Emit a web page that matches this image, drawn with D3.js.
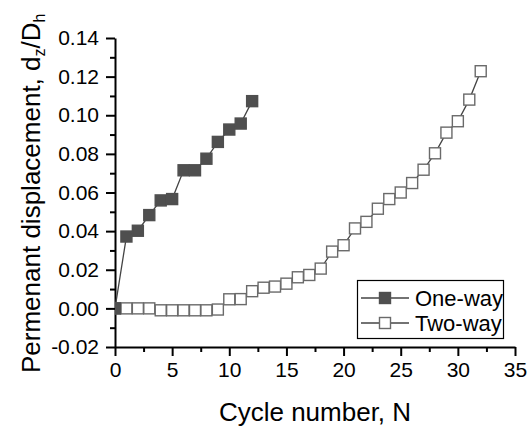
<!DOCTYPE html>
<html>
<head>
<meta charset="utf-8">
<script src="https://cdn.jsdelivr.net/npm/d3@7"></script>
<style>
  body { margin: 0; background: #fff; }
  svg text { font-family: "Liberation Sans", Arial, sans-serif; fill: #000; }
</style>
</head>
<body>
<div id="chart"></div>
<script>
// cycle numbers and displacement ratios
const oneWayN   = [0, 1, 2, 3, 4, 5, 6, 7, 8, 9, 10, 11, 12]
const oneWayVal = [0, 0.0372, 0.0402, 0.0483, 0.0559, 0.0566, 0.0715, 0.0715, 0.0775, 0.0862, 0.0926, 0.0957, 0.1073]

const twoWayN   = d3.range(0, 33)
const twoWayVal = [0, 0, 0, 0, -0.001, -0.001, -0.001, -0.001, -0.001, -0.0006,
  0.0047, 0.0048, 0.0089, 0.0107, 0.0113, 0.0128, 0.0161, 0.0173, 0.0206, 0.0294,
  0.0327, 0.0414, 0.0448, 0.0516, 0.0566, 0.0600, 0.0649, 0.0718, 0.0803, 0.0910,
  0.0969, 0.1081, 0.1228]

const xTicks = [0, 5, 10, 15, 20, 25, 30, 35]
const yTicks = [-0.02, 0, 0.02, 0.04, 0.06, 0.08, 0.10, 0.12, 0.14]

const seriesNames = ['One-way', 'Two-way']

const width = 528,
      height = 427,
      margin = { top: 38, right: 13, bottom: 80, left: 115 }

const svg = d3.select('#chart')
  .append('svg')
  .attr('width', width)
  .attr('height', height)

const x = d3.scaleLinear()
  .domain([0, 35])
  .range([margin.left, width - margin.right])

const y = d3.scaleLinear()
  .domain([-0.02, 0.14])
  .range([height - margin.bottom, margin.top])

// minor ticks first, then major axis
svg.append('g')
  .attr('transform', `translate(0, ${y(-0.02)})`)
  .call(d3.axisBottom(x).tickValues(d3.range(2.5, 35, 5)).tickSize(5).tickFormat(''))
  .call(g => g.select('.domain').remove())
  .selectAll('line').attr('stroke-width', 2)

svg.append('g')
  .attr('transform', `translate(${x(0)}, 0)`)
  .call(d3.axisLeft(y).tickValues(d3.range(-0.01, 0.14, 0.02)).tickSize(5).tickFormat(''))
  .call(g => g.select('.domain').remove())
  .selectAll('line').attr('stroke-width', 2)

const xAxis = svg.append('g')
  .attr('transform', `translate(0, ${y(-0.02)})`)
  .call(d3.axisBottom(x).tickValues(xTicks).tickSize(9).tickSizeOuter(0).tickPadding(6).tickFormat(d3.format('d')))
xAxis.select('.domain').attr('stroke-width', 2)
xAxis.selectAll('line').attr('stroke-width', 2)
xAxis.selectAll('text').attr('font-size', 21)

const yAxis = svg.append('g')
  .attr('transform', `translate(${x(0)}, 0)`)
  .call(d3.axisLeft(y).tickValues(yTicks).tickSize(9).tickSizeOuter(0).tickPadding(7).tickFormat(d3.format('.2f')))
yAxis.select('.domain').attr('stroke-width', 2)
yAxis.selectAll('line').attr('stroke-width', 2)
yAxis.selectAll('text').attr('font-size', 21).text(d => d < 0 ? '-' + d3.format('.2f')(-d) : d3.format('.2f')(d))

// axis titles
svg.append('text')
  .attr('x', (x(0) + x(35)) / 2)
  .attr('y', 421)
  .attr('text-anchor', 'middle')
  .attr('font-size', 26)
  .text('Cycle number, N')

const yTitle = svg.append('text')
  .attr('transform', `translate(40, 373) rotate(-90)`)
  .attr('font-size', 26)
yTitle.append('tspan').text('Permenant displacement, d')
yTitle.append('tspan').attr('font-size', 16).attr('dy', 5).text('z')
yTitle.append('tspan').attr('dy', -5).text('/D')
yTitle.append('tspan').attr('font-size', 16).attr('dy', 5).text('h')

// plot area clip
svg.append('clipPath').attr('id', 'plotClip')
  .append('rect')
  .attr('x', x(0)).attr('y', 0)
  .attr('width', x(35) - x(0)).attr('height', y(-0.02))

const plot = svg.append('g').attr('clip-path', 'url(#plotClip)')
const line = d3.line().x(d => x(d[0])).y(d => y(d[1]))
const mk = 11

const series = [
  { name: seriesNames[1], pts: twoWayN.map((n, i) => [n, twoWayVal[i]]), fill: '#fff', stroke: '#6a6a6a' },
  { name: seriesNames[0], pts: oneWayN.map((n, i) => [n, oneWayVal[i]]), fill: '#4f4f4f', stroke: '#4f4f4f' }
]

series.forEach(s => {
  plot.append('path')
    .datum(s.pts)
    .attr('d', line)
    .attr('fill', 'none')
    .attr('stroke', '#444')
    .attr('stroke-width', 1.3)

  plot.selectAll(null)
    .data(s.pts)
    .enter()
    .append('rect')
      .attr('x', d => x(d[0]) - mk / 2)
      .attr('y', d => y(d[1]) - mk / 2)
      .attr('width', mk)
      .attr('height', mk)
      .attr('fill', s.fill)
      .attr('stroke', s.stroke)
      .attr('stroke-width', 1.4)
})

// legend
const legend = svg.append('g')
legend.append('rect')
  .attr('x', 357.5).attr('y', 280.5)
  .attr('width', 146).attr('height', 58)
  .attr('fill', '#fff')
  .attr('stroke', '#000')
  .attr('stroke-width', 1.2)

const legendRows = [series[1], series[0]]
legendRows.forEach((s, i) => {
  const ly = 298 + i * 25
  legend.append('line')
    .attr('x1', 361).attr('x2', 409)
    .attr('y1', ly).attr('y2', ly)
    .attr('stroke', '#444').attr('stroke-width', 1.3)
  legend.append('rect')
    .attr('x', 385 - mk / 2).attr('y', ly - mk / 2)
    .attr('width', mk).attr('height', mk)
    .attr('fill', s.fill).attr('stroke', s.stroke).attr('stroke-width', 1.4)
  legend.append('text')
    .attr('x', 415).attr('y', ly + 8)
    .attr('font-size', 22)
    .text(s.name)
})
</script>
</body>
</html>
